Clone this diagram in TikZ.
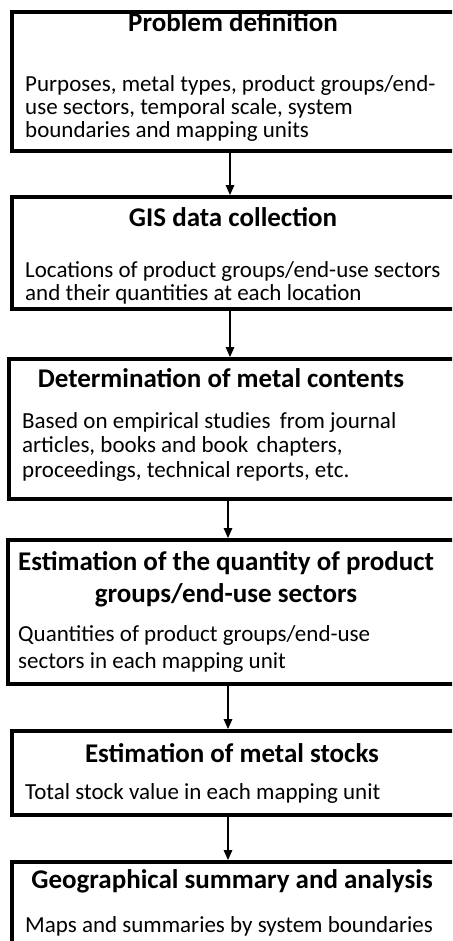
\documentclass[tikz,border=0pt]{standalone}
\usepackage{fontspec}
\setmainfont{Carlito}
\usetikzlibrary{arrows.meta}
\begin{document}
\begin{tikzpicture}[x=1pt, y=-1pt,
  stage/.style={draw=black, line width=3.8pt, inner sep=0pt},
  heading/.style={anchor=base, inner sep=0pt, align=center,
    font=\bfseries\fontsize{27}{32}\selectfont},
  detail/.style={anchor=base west, inner sep=0pt, align=left,
    font=\fontsize{23}{#1}\selectfont},
  detail/.default=23.5,
  flow/.style={line width=1.3pt, -{Triangle[length=10pt, width=8.5pt]}}
]
\useasboundingbox (0,0) rectangle (452,941);
\clip (0,0) rectangle (452,941);

% stage frames: centre, width and height of each frame line
\node[stage, minimum width=444pt, minimum height=139pt] (b1) at (234,81.5) {};
\node[stage, minimum width=444pt, minimum height=112pt] (b2) at (234,253) {};
\node[stage, minimum width=447pt, minimum height=140pt] (b3) at (232.5,429) {};
\node[stage, minimum width=448pt, minimum height=144pt] (b4) at (232,612) {};
\node[stage, minimum width=444pt, minimum height=84pt]  (b5) at (234,773) {};
\node[stage, minimum width=444pt, minimum height=140pt] (b6) at (234,932) {};

% headings (a multi-line node sits on the baseline of its last line)
\node[heading] (t1) at (233,32)  {Problem definition};
\node[heading] (t2) at (233,226) {GIS data collection};
\node[heading] (t3) at (221,387) {Determination of metal contents};
\node[heading] (t4) at (226,602) {Estimation of the quantity of product\\groups/end-use sectors};
\node[heading] (t5) at (232,762) {Estimation of metal stocks};
\node[heading] (t6) at (232,888) {Geographical summary and analysis};

% descriptions
\node[detail=23] (d1) at (25,138) {Purposes, metal types, product groups/end-\\use sectors, temporal scale, system\\boundaries and mapping units};
\node[detail=23] (d2) at (25,300) {Locations of product groups/end-use sectors\\and their quantities at each location};
\node[detail=24.5] (d3) at (22,477) {Based on empirical studies\hspace{4pt} from journal\\articles, books and book\hspace{3pt} chapters,\\proceedings, technical reports, etc.};
\node[detail=27] (d4) at (18,668) {Quantities of product groups/end-use\\sectors in each mapping unit};
\node[detail] (d5) at (25,799) {Total stock value in each mapping unit};
\node[detail] (d6) at (25,932) {Maps and summaries by system boundaries};

% connectors
\coordinate (ax) at (230,0);
\coordinate (bx) at (228,0);
\draw[flow] (b1.south -| ax) -- (b2.north -| ax);
\draw[flow] (b2.south -| ax) -- (b3.north -| ax);
\draw[flow] (b3.south -| bx) -- (b4.north -| bx);
\draw[flow] (b4.south -| bx) -- (b5.north -| bx);
\draw[flow] (b5.south -| bx) -- (b6.north -| bx);
\end{tikzpicture}
\end{document}
